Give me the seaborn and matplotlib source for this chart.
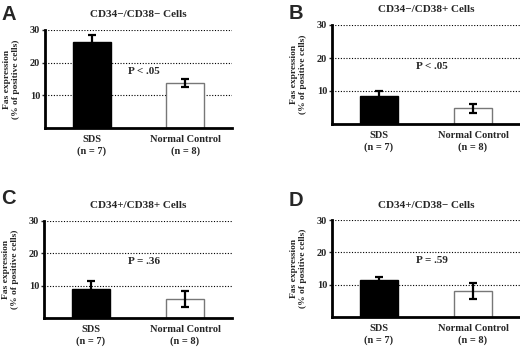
import matplotlib
matplotlib.use("Agg")
import matplotlib.pyplot as plt
import seaborn as sns

# values (mean % Fas+ cells, with SEM)
groups = ["SDS\n(n = 7)", "Normal Control\n(n = 8)"]
letters = ["A", "B", "C", "D"]
titles = ["CD34\u2212/CD38\u2212 Cells", "CD34\u2212/CD38+ Cells",
          "CD34+/CD38+ Cells", "CD34+/CD38\u2212 Cells"]
p_labels = ["P < .05", "P < .05", "P = .36", "P = .59"]

means_a = [26.4, 13.8]
sem_a = [2.2, 1.3]
means_b = [8.4, 4.7]
sem_b = [1.7, 1.25]
means_c = [9.1, 5.9]
sem_c = [2.4, 2.5]
means_d = [11.4, 8.1]
sem_d = [0.9, 2.45]

all_means = [means_a, means_b, means_c, means_d]
all_sems = [sem_a, sem_b, sem_c, sem_d]

sns.set_style("white")
plt.rcParams['font.family'] = ['Liberation Serif', 'DejaVu Serif']

W, H = 520, 350
fig = plt.figure(figsize=(5.2, 3.5), dpi=100)

# axes boxes in pixels: left, top, right, bottom
boxes = [(45, 30, 232, 128), (332, 25, 520, 124),
         (44, 221, 232, 318), (332, 220, 520, 317)]
# panel letters: left edge, baseline (pixels)
letter_pos = [(1, 20), (289, 19), (1, 204), (289, 206)]

def px_axes(b):
    l, t, r, btm = b
    return fig.add_axes([l / W, 1 - btm / H, (r - l) / W, (btm - t) / H])

for i in range(4):
    ax = px_axes(boxes[i])
    means = all_means[i]
    sns.barplot(x=groups, y=means, hue=groups, palette=["black", "white"],
                legend=False, width=0.41, ax=ax, linewidth=1)
    for patch, ec in zip(ax.patches, ["black", "#777777"]):
        patch.set_edgecolor(ec)
    ax.errorbar([0, 1], means, yerr=all_sems[i], fmt="none", ecolor="black",
                elinewidth=1.6, capsize=2.6, capthick=1.6, zorder=5)

    ax.set_xlim(-0.5, 1.5)
    ax.set_ylim(0, 30)
    ax.set_yticks([10, 20, 30])
    ax.set_axisbelow(True)
    ax.yaxis.grid(True, linestyle=(0, (1, 1.5)), color="black", lw=0.8)
    ax.xaxis.grid(False)
    sns.despine(ax=ax)
    ax.spines['left'].set_linewidth(2)
    ax.spines['bottom'].set_linewidth(2)
    ax.spines['left'].set_color("black")
    ax.spines['bottom'].set_color("black")
    ax.tick_params(axis='y', left=True, length=2, width=1, pad=1.5, labelsize=7.5)
    ax.tick_params(axis='x', length=0, pad=5, labelsize=7.5)
    for lab in ax.get_yticklabels() + ax.get_xticklabels():
        lab.set_fontweight("bold")
        lab.set_linespacing(1.35)
    ax.set_xlabel("")
    ax.set_ylabel("Fas expression\n(% of positive cells)", fontsize=6.8,
                  fontweight="bold", labelpad=7, linespacing=1.15)
    ax.set_title(titles[i], fontsize=8, fontweight="bold", pad=9)
    ax.text(0.56, 17.4, p_labels[i], ha="center", va="center",
            fontsize=8, fontweight="bold")

    lx, ly = letter_pos[i]
    fig.text(lx / W, 1 - ly / H, letters[i], fontsize=14.5, fontweight="bold",
             family="Liberation Sans", ha="left", va="baseline")

fig.savefig("out.png", dpi=100)
